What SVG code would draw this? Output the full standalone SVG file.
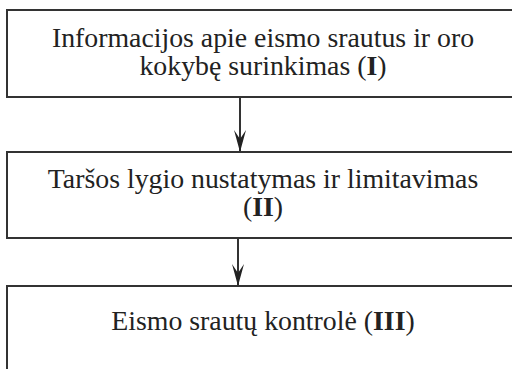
<svg xmlns="http://www.w3.org/2000/svg" width="512" height="369" viewBox="0 0 512 369">
<style>
.box{fill:#fff;stroke:#333;stroke-width:2}
.t{font-family:"Liberation Serif","Times New Roman",serif;font-size:27.8px;fill:#222;text-anchor:middle}
.b{font-weight:bold}
.c{stroke:#333;stroke-width:2;fill:none}
</style>
<defs>
<marker id="ah" markerUnits="userSpaceOnUse" markerWidth="24" markerHeight="16" refX="22" refY="8" orient="auto" viewBox="0 0 24 16">
<path d="M22,8 L0,2 L9,8 L0,14 Z" fill="#222"/>
</marker>
</defs>
<rect width="512" height="369" fill="#fff"/>
<g id="connectors">
<line class="c" x1="240" y1="97" x2="240" y2="152" marker-end="url(#ah)"/>
<line class="c" x1="238" y1="239" x2="238" y2="286" marker-end="url(#ah)"/>
</g>
<g id="node1">
<rect class="box" x="7" y="10" width="520" height="87"/>
<text class="t" x="263" y="47">Informacijos apie eismo srautus ir oro</text>
<text class="t" x="263" y="75">kokybę surinkimas (<tspan class="b">I</tspan>)</text>
</g>
<g id="node2">
<rect class="box" x="7" y="152" width="520" height="86"/>
<text class="t" x="263" y="188">Taršos lygio nustatymas ir limitavimas</text>
<text class="t" x="263" y="216">(<tspan class="b">II</tspan>)</text>
</g>
<g id="node3">
<rect class="box" x="7" y="286" width="520" height="100"/>
<text class="t" x="263" y="330">Eismo srautų kontrolė (<tspan class="b">III</tspan>)</text>
</g>
</svg>
